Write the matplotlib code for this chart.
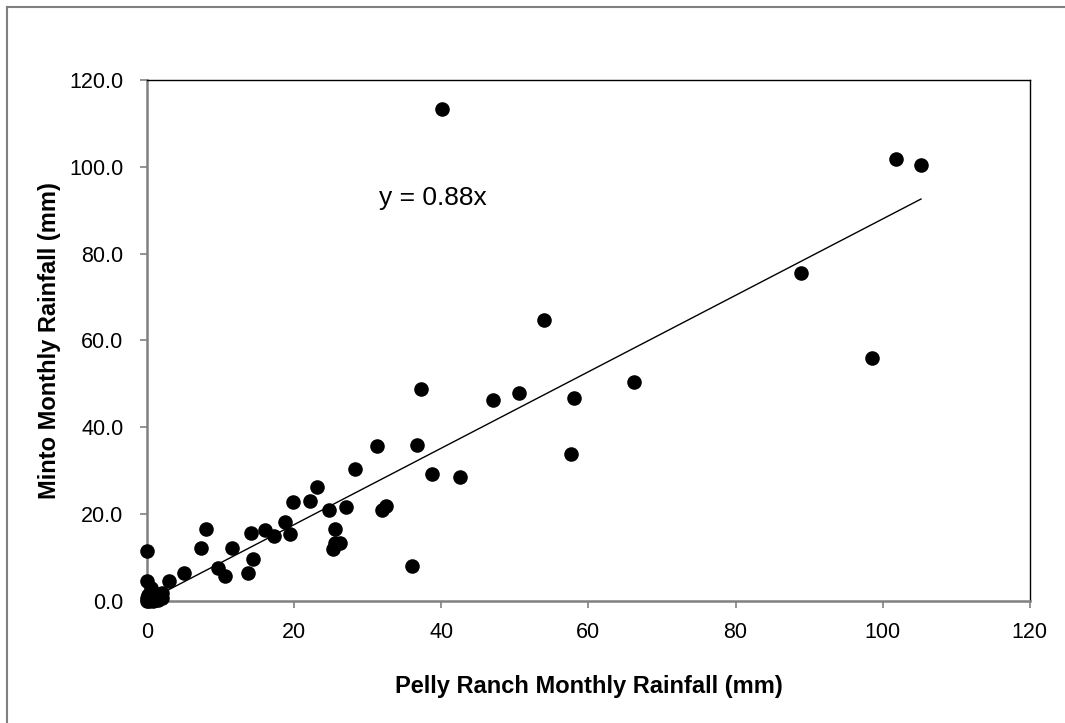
import matplotlib.pyplot as plt
from matplotlib.lines import Line2D

plt.rcParams['font.family'] = ['Liberation Sans', 'DejaVu Sans']

# monthly rainfall (mm): Pelly Ranch (x) vs Minto (y)
pelly = [40.1, 101.8, 105.2, 88.9, 98.6, 53.9, 66.2, 37.3, 47.0, 50.6,
         58.0, 57.6, 31.3, 36.7, 38.7, 42.5, 28.3, 23.1, 19.8, 22.1,
         24.8, 27.1, 31.9, 32.5, 8.0, 7.3, 11.6, 14.1, 16.1, 17.2,
         18.7, 19.5, 25.5, 26.3, 25.6, 25.3, 36.0, 0.0, 5.0, 9.6,
         10.6, 13.7, 14.4, 3.0, 0.0, 0.6, 2.1, 2.0, 1.1, 0.0,
         0.0, 0.3, 0.8, 1.5, 0.2]
minto = [113.4, 101.8, 100.5, 75.6, 56.0, 64.7, 50.5, 48.8, 46.4, 47.8,
         46.8, 33.8, 35.8, 36.0, 29.2, 28.6, 30.5, 26.2, 22.9, 23.0,
         21.0, 21.7, 21.0, 22.0, 16.6, 12.2, 12.2, 15.7, 16.4, 15.0,
         18.1, 15.4, 16.5, 13.4, 13.4, 11.9, 8.0, 11.6, 6.4, 7.6,
         5.8, 6.4, 9.7, 4.6, 4.7, 3.1, 1.8, 0.6, 0.2, 0.6,
         0.0, 0.0, 0.1, 0.3, 1.5]
slope = 0.88

x_ticks = [0, 20, 40, 60, 80, 100, 120]
y_ticks = [0, 20, 40, 60, 80, 100, 120]

fig = plt.figure(figsize=(10.65, 7.23), dpi=100)
ax = fig.add_axes([0.138, 0.1687, 0.829, 0.7207])

ax.scatter(pelly, minto, s=110, color='black', zorder=3, linewidths=0,
           clip_on=False)
xmax = max(pelly)
ax.plot([0, xmax], [0, slope * xmax], color='black', lw=1.0, zorder=2)
ax.text(31.6, 92.8, 'y = 0.88x', fontsize=19, va='center', ha='left')

ax.set_xlim(0, 120)
ax.set_ylim(0, 120)
ax.set_xticks(x_ticks)
ax.set_yticks(y_ticks)
ax.set_xticklabels([str(t) for t in x_ticks])
ax.set_yticklabels(['%.1f' % t for t in y_ticks])
ax.tick_params(direction='out', length=5, width=1.2, color='#808080',
               labelsize=15.5)
ax.tick_params(axis='y', pad=12)
ax.tick_params(axis='x', pad=10)

for side in ['left', 'bottom']:
    ax.spines[side].set_color('#808080')
    ax.spines[side].set_linewidth(1.8)
for side in ['top', 'right']:
    ax.spines[side].set_color('black')
    ax.spines[side].set_linewidth(1.0)

ax.set_xlabel('Pelly Ranch Monthly Rainfall (mm)', fontsize=17,
              fontweight='bold', labelpad=23)
ax.set_ylabel('Minto Monthly Rainfall (mm)', fontsize=17,
              fontweight='bold', labelpad=6)

# outer chart border (top and left edges visible)
fig.add_artist(Line2D([7 / 1065, 1.0], [1 - 7 / 723, 1 - 7 / 723],
                      color='#808080', lw=1.5, transform=fig.transFigure))
fig.add_artist(Line2D([7 / 1065, 7 / 1065], [0.0, 1 - 7 / 723],
                      color='#808080', lw=1.5, transform=fig.transFigure))

fig.savefig('out.png', dpi=100)
